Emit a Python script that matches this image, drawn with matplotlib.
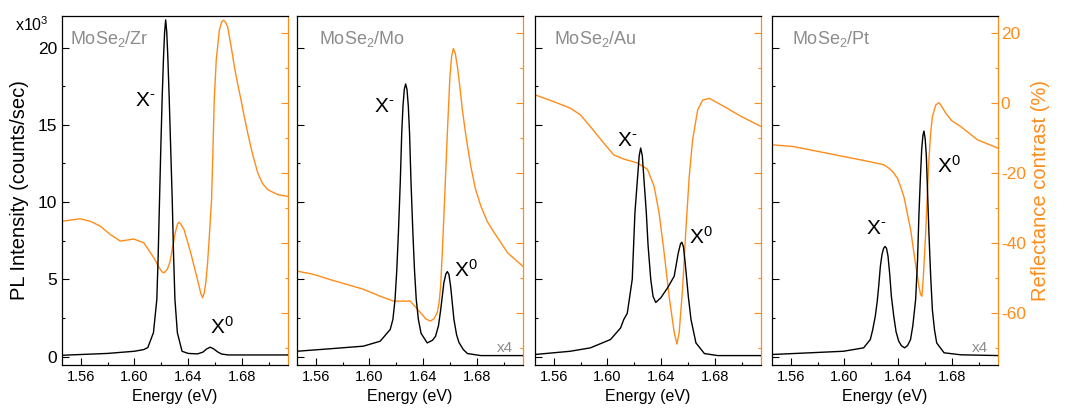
import matplotlib
matplotlib.use("Agg")
import matplotlib.pyplot as plt
from matplotlib.ticker import MultipleLocator, NullFormatter

plt.rcParams['font.family'] = ['Liberation Sans', 'DejaVu Sans']
plt.rcParams['mathtext.fontset'] = 'custom'
plt.rcParams['mathtext.rm'] = 'Liberation Sans'
plt.rcParams['mathtext.it'] = 'Liberation Sans:italic'
plt.rcParams['axes.unicode_minus'] = False

ORANGE = '#ff8c1a'
GRAY = '#8c8c8c'

# ---------------- data (energy in eV, PL in 10^3 counts/sec, reflectance in %) ----------------
# MoSe2 / Zr
zr_pl_e = [1.546, 1.58, 1.60, 1.607, 1.61, 1.6142, 1.6167, 1.6177, 1.6187, 1.6197, 1.6207, 1.6217,
           1.6225, 1.6233, 1.6241, 1.6249, 1.6259, 1.627, 1.6282, 1.6292, 1.6302, 1.632, 1.6355,
           1.640, 1.647, 1.651, 1.654, 1.6565, 1.659, 1.662, 1.665, 1.67, 1.68, 1.7145]
zr_pl = [0.08, 0.2, 0.34, 0.45, 0.58, 1.55, 3.7, 6.5, 10.1, 13.6, 16.8, 19.4,
         21.0, 21.8, 21.0, 19.4, 16.8, 13.6, 10.1, 6.5, 3.7, 1.55, 0.34,
         0.2, 0.17, 0.28, 0.5, 0.6, 0.5, 0.3, 0.16, 0.1, 0.1, 0.1]
zr_rc_e = [1.546, 1.5595, 1.567, 1.5745, 1.582, 1.5895, 1.5995, 1.607, 1.6145, 1.618, 1.6205,
           1.622, 1.6245, 1.6265, 1.6282, 1.6305, 1.6322, 1.6332, 1.6345, 1.637, 1.642, 1.647,
           1.6495, 1.6508, 1.652, 1.6532, 1.6545, 1.6557, 1.6575, 1.6585, 1.6595, 1.661, 1.6633,
           1.665, 1.6665, 1.668, 1.6695, 1.672, 1.6745, 1.677, 1.6795, 1.682, 1.6845, 1.688,
           1.692, 1.6955, 1.6995, 1.707, 1.7145]
zr_rc = [-33.8, -33.1, -33.8, -35.2, -37.6, -39.5, -38.9, -40.0, -44.3, -46.8, -48.3,
         -48.6, -47.6, -45.5, -41.9, -37.0, -34.5, -34.1, -34.6, -36.2, -42.9, -50.5,
         -54.5, -55.7, -54.5, -51.4, -46.0, -39.0, -27.6, -14.0, 0.9, 12.4, 20.9,
         23.3, 23.8, 23.2, 21.9, 16.5, 10.5, 5.5, 0.9, -4.0, -8.6, -14.5,
         -20.0, -23.0, -24.8, -26.2, -26.7]

# MoSe2 / Mo (PL x4)
mo_pl_e = [1.546, 1.5705, 1.5955, 1.608, 1.6155, 1.6175, 1.6191, 1.6204, 1.6216, 1.623, 1.6241,
           1.625, 1.626, 1.627, 1.628, 1.629, 1.6299, 1.631, 1.6324, 1.6336, 1.6349, 1.6365,
           1.6385, 1.6431, 1.647, 1.6493, 1.6515, 1.6531, 1.6555, 1.657, 1.6581, 1.6593,
           1.6606, 1.663, 1.665, 1.6668, 1.670, 1.6731, 1.6831, 1.7155]
mo_pl = [0.34, 0.5, 0.67, 0.99, 1.75, 2.4, 3.7, 5.6, 8.0, 11.3, 14.5,
         16.2, 17.3, 17.65, 17.3, 16.2, 14.5, 11.3, 8.0, 5.6, 3.7, 2.4,
         1.5, 0.88, 1.05, 1.31, 2.0, 3.0, 4.77, 5.35, 5.5, 5.3,
         4.5, 2.4, 1.4, 0.9, 0.45, 0.19, 0.06, 0.06]
mo_rc_e = [1.546, 1.558, 1.5705, 1.583, 1.5955, 1.608, 1.618, 1.6305, 1.6381, 1.642, 1.6455,
           1.648, 1.6506, 1.652, 1.6531, 1.6543, 1.6555, 1.6581, 1.660, 1.6613, 1.6626, 1.664,
           1.6656, 1.6675, 1.6693, 1.672, 1.6756, 1.679, 1.6831, 1.688, 1.6931, 1.7031, 1.7155]
mo_rc = [-48.1, -49.0, -50.5, -51.9, -53.3, -55.3, -56.7, -56.7, -60.0, -61.8, -62.4,
         -61.8, -60.0, -57.0, -52.4, -43.0, -32.4, -8.6, 7.6, 13.5, 15.7, 14.3,
         10.5, 4.5, -1.9, -9.5, -18.1, -24.5, -29.5, -34.0, -37.1, -42.9, -47.1]

# MoSe2 / Au
au_pl_e = [1.546, 1.5723, 1.5873, 1.6023, 1.6098, 1.6122, 1.6148, 1.6185, 1.6205, 1.6223, 1.6237,
           1.6248, 1.626, 1.6273, 1.629, 1.6303, 1.6323, 1.634, 1.636, 1.6398, 1.6448, 1.6498,
           1.6528, 1.6545, 1.6555, 1.6567, 1.658, 1.6603, 1.6623, 1.666, 1.6723, 1.6823, 1.7148]
au_pl = [0.13, 0.34, 0.56, 1.1, 1.85, 2.4, 2.8, 5.0, 9.3, 11.4, 13.0,
         13.5, 13.0, 11.4, 9.3, 7.2, 5.0, 3.9, 3.5, 3.8, 4.44, 5.2,
         6.7, 7.3, 7.4, 7.1, 6.05, 3.9, 2.4, 0.88, 0.19, 0.06, 0.06]
au_rc_e = [1.546, 1.5597, 1.5723, 1.5798, 1.5873, 1.5972, 1.6047, 1.6122, 1.6223, 1.6298, 1.6348,
           1.6385, 1.6423, 1.646, 1.6498, 1.6518, 1.6535, 1.656, 1.6585, 1.661, 1.6635,
           1.6673, 1.671, 1.676, 1.6873, 1.6998, 1.7148]
au_rc = [2.4, 0.5, -1.4, -3.3, -6.7, -11.4, -14.8, -16.0, -17.1, -18.9, -23.8,
         -31.4, -42.9, -55.3, -65.7, -69.0, -65.7, -53.3, -36.2, -21.0, -10.5,
         -1.9, 0.9, 1.4, -1.0, -3.8, -6.7]

# MoSe2 / Pt (PL x4)
pt_pl_e = [1.546, 1.5743, 1.5993, 1.6143, 1.6193, 1.621, 1.623, 1.6245, 1.6256, 1.6268, 1.628,
           1.6292, 1.6303, 1.6314, 1.6325, 1.6338, 1.635, 1.6368, 1.6385, 1.6405, 1.6425, 1.6448,
           1.647, 1.6493, 1.651, 1.6531, 1.6545, 1.6555, 1.6566, 1.6576, 1.6585, 1.6593,
           1.6602, 1.6611, 1.662, 1.663, 1.6643, 1.6656, 1.6672, 1.6688, 1.6743, 1.6868, 1.7148]
pt_pl = [0.13, 0.24, 0.34, 0.56, 1.1, 1.7, 2.6, 3.6, 4.6, 5.84, 6.6,
         7.0, 7.13, 7.0, 6.5, 5.3, 3.9, 2.6, 1.6, 0.99, 0.7, 0.56,
         0.7, 1.1, 2.0, 3.7, 6.2, 9.07, 11.5, 13.4, 14.3, 14.6,
         14.1, 12.95, 10.6, 8.0, 5.2, 3.0, 1.7, 0.88, 0.24, 0.11, 0.06]
pt_rc_e = [1.546, 1.5618, 1.5868, 1.6118, 1.6293, 1.6338, 1.6368, 1.6395, 1.6418, 1.6445, 1.6468,
           1.6495, 1.6518, 1.654, 1.6555, 1.6568, 1.6578, 1.6588, 1.6597, 1.6606, 1.6618,
           1.663, 1.6643, 1.6656, 1.6681, 1.6705, 1.673, 1.6756, 1.68, 1.6868, 1.6993, 1.7148]
pt_rc = [-11.9, -12.4, -14.3, -16.2, -17.6, -18.8, -20.0, -21.5, -23.8, -27.0, -31.4,
         -36.5, -42.9, -48.5, -52.4, -54.8, -55.3, -50.0, -43.5, -37.1, -26.0,
         -16.2, -8.5, -3.8, -0.5, 0.2, -1.2, -2.9, -5.0, -6.7, -10.5, -12.9]

titles = ['MoSe$\\mathregular{_2}$/Zr', 'MoSe$\\mathregular{_2}$/Mo',
          'MoSe$\\mathregular{_2}$/Au', 'MoSe$\\mathregular{_2}$/Pt']
pl_e = [zr_pl_e, mo_pl_e, au_pl_e, pt_pl_e]
pl = [zr_pl, mo_pl, au_pl, pt_pl]
rc_e = [zr_rc_e, mo_rc_e, au_rc_e, pt_rc_e]
rc = [zr_rc, mo_rc, au_rc, pt_rc]
scale_notes = ['', 'x4', '', 'x4']

# peak label positions (energy, PL value)
xm_pos = [(1.6083, 16.6), (1.611, 16.2), (1.615, 14.0), (1.6238, 8.27)]
x0_pos = [(1.6653, 1.9), (1.6718, 5.6), (1.6698, 7.75), (1.6778, 12.35)]
title_x = [0.035, 0.097, 0.085, 0.088]

# ----------------------------------------------------------------
fig = plt.figure(figsize=(10.77, 4.12), dpi=100)

lefts = [62, 297, 535, 772]
W, H = 1077., 412.
for i in range(4):
    ax = fig.add_axes([lefts[i] / W, (H - 365) / H, 226 / W, 349 / H])
    ax2 = ax.twinx()
    ax.set_zorder(ax2.get_zorder() + 1)
    ax.patch.set_visible(False)

    ax2.plot(rc_e[i], rc[i], color=ORANGE, lw=1.0)
    ax.plot(pl_e[i], pl[i], color='black', lw=1.0)

    ax.set_xlim(1.546, 1.7145)
    ax.set_ylim(-0.55, 22.05)
    ax2.set_ylim(-75, 25)

    ax.xaxis.set_major_locator(MultipleLocator(0.04))
    ax.xaxis.set_minor_locator(MultipleLocator(0.02))
    ax.xaxis.set_major_formatter(plt.FuncFormatter(lambda v, p: f'{v:.2f}'))
    ax.yaxis.set_major_locator(MultipleLocator(5))
    ax.yaxis.set_minor_locator(MultipleLocator(2.5))
    ax2.yaxis.set_major_locator(MultipleLocator(20))
    ax2.yaxis.set_minor_locator(MultipleLocator(10))

    ax.tick_params(axis='both', which='both', direction='in', labelsize=10.5, top=False, right=False)
    ax.tick_params(which='major', length=5, width=0.8)
    ax.tick_params(which='minor', length=2.5, width=0.8)
    ax2.tick_params(axis='y', which='both', direction='in', colors=ORANGE, labelsize=12.5, pad=2)
    ax2.tick_params(which='major', length=5, width=0.8)
    ax2.tick_params(which='minor', length=2.5, width=0.8)
    ax2.spines['right'].set_color(ORANGE)
    ax.spines['right'].set_visible(False)
    for s in ax.spines.values():
        s.set_linewidth(0.9)
    ax2.spines['right'].set_linewidth(0.9)
    ax2.spines['left'].set_visible(False)
    ax2.spines['top'].set_visible(False)
    ax2.spines['bottom'].set_visible(False)

    if i == 0:
        ax.set_ylabel('PL Intensity (counts/sec)', fontsize=14.5, labelpad=6)
        ax.tick_params(axis='y', labelsize=12.5)
    else:
        ax.yaxis.set_major_formatter(NullFormatter())
    if i == 3:
        ax2.set_ylabel('Reflectance contrast (%)', color=ORANGE, fontsize=14.5, labelpad=4)
    else:
        ax2.yaxis.set_major_formatter(NullFormatter())

    ax.set_xlabel('Energy (eV)', fontsize=11.5, labelpad=4)

    ax.text(title_x[i], 0.935, titles[i], transform=ax.transAxes, color=GRAY,
            fontsize=13, ha='left', va='center')
    ax.text(xm_pos[i][0], xm_pos[i][1], 'X$^{\\text{-}}$', fontsize=15, ha='center', va='center')
    ax.text(x0_pos[i][0], x0_pos[i][1], 'X$^{\\mathregular{0}}$', fontsize=15, ha='center', va='center')
    if scale_notes[i]:
        ax.text(0.955, 0.05, scale_notes[i], transform=ax.transAxes, color=GRAY,
                fontsize=11, ha='right', va='center')

fig.text(15 / W, (H - 25) / H, 'x10$^{\\mathregular{3}}$', fontsize=11.5, ha='left', va='center')

fig.savefig('out.png', dpi=100)
